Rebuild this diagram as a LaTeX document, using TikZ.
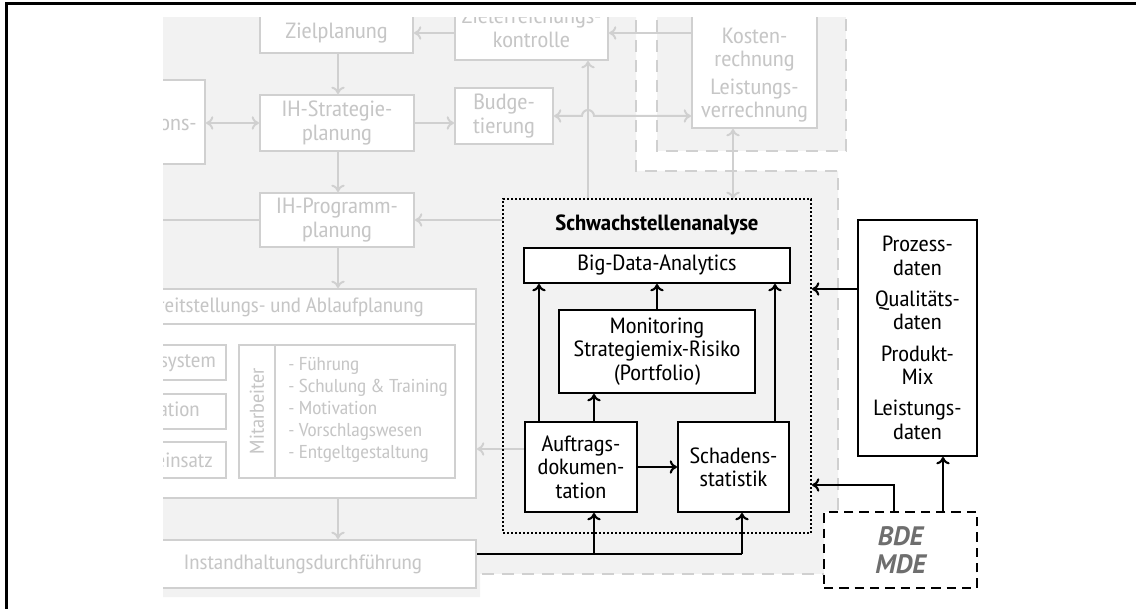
\documentclass[tikz,border=0pt]{standalone}
\usepackage{fontspec}
\setmainfont{PT Sans Narrow}[FakeStretch=1.13]
\newfontfamily\bdefont{PT Sans}
\usetikzlibrary{arrows.meta}
\definecolor{bgfill}{HTML}{F2F2F2}
\definecolor{gline}{HTML}{D0D0D0}
\definecolor{gtext}{HTML}{C6C6C6}
\definecolor{bdetext}{HTML}{6E6E6E}
\newcommand\dsize{\fontsize{16.5}{17.5}\selectfont}
\begin{document}
\begin{tikzpicture}[x=0.75pt,y=-0.75pt,
  every node/.style={font=\dsize},
  box/.style n args={4}{minimum width={(#3-#1)*0.75pt}, minimum height={(#4-#2)*0.75pt},
    at={({(#1+#3)/2},{(#2+#4)/2})}},
  gbox/.style={draw=gline, line width=1.5pt, fill=white, inner sep=0pt, text=gtext, align=center},
  bbox/.style={draw=black, line width=1.5pt, fill=white, inner sep=0pt, text=black, align=center},
  gtxt/.style={text=gtext, inner sep=0pt, align=center},
  gline/.style={draw=gline, line width=1.5pt},
  garrow/.style={gline, -{Computer Modern Rightarrow[length=5.5pt,width=10pt]}},
  garrows/.style={gline, {Computer Modern Rightarrow[length=5.5pt,width=10pt]}-{Computer Modern Rightarrow[length=5.5pt,width=10pt]}},
  barrow/.style={draw=black, line width=1.6pt, -{Computer Modern Rightarrow[length=5.5pt,width=10pt]}},
  bline/.style={draw=black, line width=1.6pt},
  gdash/.style={draw=gline, line width=1.5pt, dash pattern=on 9pt off 6pt},
]
\useasboundingbox (0,0) rectangle (1136,609);

% helper coordinates for connector positions
\coordinate (yziel) at (0,33);
\coordinate (yhop) at (0,116);
\coordinate (xv) at (588,0);
\coordinate (xk) at (733,0);
\coordinate (hdr) at (0,324);
\coordinate (ybd) at (0,449);
\coordinate (xmain) at (338,0);
\coordinate (bus) at (0,554);
\coordinate (xa) at (594,0);
\coordinate (xs) at (742,0);
\coordinate (xl) at (539,0);
\coordinate (xr) at (775,0);
\coordinate (ypz) at (0,289);
\coordinate (ybde) at (0,485);
\coordinate (xbde) at (894,0);
\coordinate (xpz) at (943,0);
\coordinate (ytop) at (0,199);
\coordinate (progleft) at (100,220);

\begin{scope}
\clip (163,18) rectangle (1136,609);

% shaded planning areas
\fill[bgfill] (163,0) -- (636,0) -- (636,171) -- (838,171) -- (838,574)
  -- (480,574) -- (480,597) -- (163,597) -- cycle;
\fill[bgfill] (657,0) rectangle (846,151);
\draw[gdash] (636,0) -- (636,171) -- (838,171) -- (838,574) -- (470,574);
\draw[gdash] (657,0) -- (657,151) -- (846,151) -- (846,0);

% planning chain (grey)
\node[gbox, box={260}{13}{413}{53}] (ziel) {Zielplanung};
\node[gbox, box={455}{-4}{608}{60}] (zek) {Zielerreichungs-\\kontrolle};
\node[gbox, box={692}{-10}{817}{128}] (kosten) {};
\node[gtxt] at (754.5,75) {Kosten-\\rechnung\\[3pt]Leistungs-\\verrechnung};
\node[gbox, box={260}{95}{414}{151}] (strat) {IH-Strategie-\\planung};
\node[gbox, box={455}{88}{553}{144}] (budget) {Budge-\\tierung};
\node[gbox, box={60}{80}{205}{164}] (organ) {};
\node[gtxt, anchor=east] at (197,123) {IH-\\Organisations-\\form};
\node[gbox, box={260}{193}{414}{247}] (prog) {IH-Programm-\\planung};

% Bereitstellungs- und Ablaufplanung
\node[gbox, box={60}{289}{476}{498}] (bereit) {};
\draw[gline] (bereit.west |- hdr) -- (bereit.east |- hdr);
\node[gtxt, anchor=east, font=\fontsize{15.5}{17}\selectfont] at (424,307) {Bereitstellungs- und Ablaufplanung};
\node[gbox, box={60}{345}{226}{380}] (info) {};
\node[gtxt, anchor=east, font=\fontsize{15.5}{17}\selectfont] at (216,362) {Informationssystem};
\node[gbox, box={60}{394}{226}{429}] (orga) {};
\node[gtxt, anchor=east, font=\fontsize{15.5}{17}\selectfont] at (200,411) {Organisation};
\node[gbox, box={60}{442}{226}{478}] (pers) {};
\node[gtxt, anchor=east, font=\fontsize{15.5}{17}\selectfont] at (213,460) {Personaleinsatz};
\node[gbox, box={239}{345}{455}{478}] (mit) {};
\coordinate (xdiv) at (275,0);
\draw[gline] (mit.north -| xdiv) -- (mit.south -| xdiv);
\node[gtxt, rotate=90, font=\fontsize{15}{16}\selectfont] at (257,411) {Mitarbeiter};
\node[gtxt, anchor=west, align=left, font=\fontsize{14}{16.5}\selectfont] at (288,409.5)
  {- Führung\\- Schulung \& Training\\- Motivation\\- Vorschlagswesen\\- Entgeltgestaltung};
\node[gbox, box={130}{540}{476}{588}, font=\fontsize{15.5}{17}\selectfont] (instand) {Instandhaltungsdurchführung};

% grey connectors
\draw[garrow] (zek.west |- yziel) -- (ziel.east |- yziel);
\draw[garrow] (kosten.west |- yziel) -- (zek.east |- yziel);
\draw[garrow] (ziel.south -| xmain) -- (strat.north -| xmain);
\draw[garrow] (strat.east) -- (strat.east -| budget.west);
\draw[garrows] (organ.east |- strat.west) -- (strat.west);
\draw[garrows] (budget.east |- yhop) -- (582,116) arc[start angle=180, end angle=360, radius=6]
  -- (kosten.west |- yhop);
\draw[garrow] (xv |- ytop) -- (zek.south -| xv);
\draw[garrows] (kosten.south -| xk) -- (xk |- ytop);
\draw[garrow] (strat.south -| xmain) -- (prog.north -| xmain);
\draw[garrow] (prog.south -| xmain) -- (bereit.north -| xmain);
\draw[gline] (prog.west) -- (progleft);
\draw[garrow] (503,220) -- (prog.east);
\draw[garrow] (525,449) -- (bereit.east |- ybd);
\draw[garrow] (bereit.south -| xmain) -- (instand.north -| xmain);
\end{scope}

% Schwachstellenanalyse
\node[draw=black, line width=1.5pt, dash pattern=on 1.5pt off 1.5pt, inner sep=0pt,
  box={503}{199}{811}{533}] (schwach) {};
\node[font=\dsize\bfseries] at (schwach.north |- 0,225) {Schwachstellenanalyse};
\node[bbox, box={524}{248}{790}{283}] (bigdata) {Big-Data-Analytics};
\node[bbox, box={559}{310}{755}{393}] (monitor) {Monitoring\\Strategiemix-Risiko\\(Portfolio)};
\node[bbox, box={525}{422}{637}{512}] (auftrag) {Auftrags-\\dokumen-\\tation};
\node[bbox, box={678}{422}{789}{512}] (schaden) {Schadens-\\statistik};

% data sources
\node[bbox, box={858}{220}{977}{456}] (prozess)
  {Prozess-\\daten\\[6pt]Qualitäts-\\daten\\[6pt]Produkt-\\Mix\\[6pt]Leistungs-\\daten};
\node[draw=black, line width=1.5pt, dash pattern=on 7pt off 4.5pt, fill=white, inner sep=0pt,
  align=center, text=bdetext, font=\fontsize{20}{21}\selectfont\bdefont\bfseries\itshape,
  box={824}{512}{977}{588}] (bde) {BDE\\MDE};

% black connectors
\draw[barrow] (monitor.north) -- (bigdata.south);
\draw[barrow] (auftrag.north -| xl) -- (bigdata.south -| xl);
\draw[barrow] (schaden.north -| xr) -- (bigdata.south -| xr);
\draw[barrow] (auftrag.north -| xa) -- (monitor.south -| xa);
\draw[barrow] (auftrag.east) -- (schaden.west);
\draw[bline] (instand.east |- bus) -- (xs |- bus);
\draw[barrow] (xa |- bus) -- (auftrag.south -| xa);
\draw[barrow] (xs |- bus) -- (schaden.south -| xs);
\draw[barrow] (prozess.west |- ypz) -- (schwach.east |- ypz);
\draw[barrow] (bde.north -| xbde) |- (schwach.east |- ybde);
\draw[barrow] (bde.north -| xpz) -- (prozess.south -| xpz);

% frame
\draw[line width=2.25pt] (6,609) -- (6,4) -- (1136,4);
\end{tikzpicture}
\end{document}
